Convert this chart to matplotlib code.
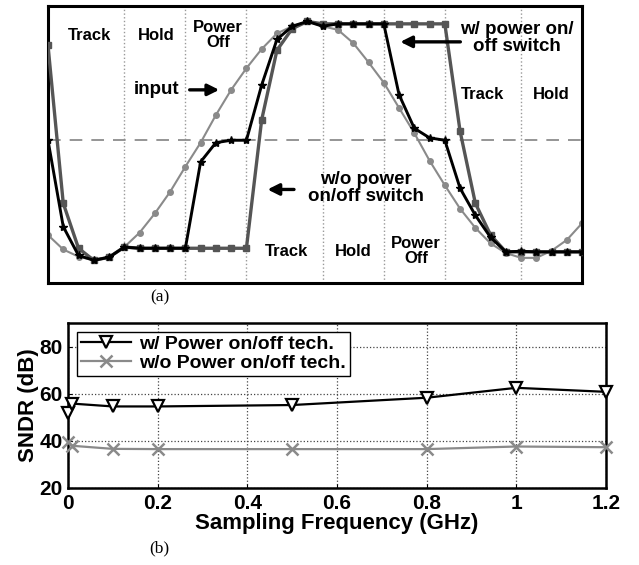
import matplotlib
matplotlib.use("Agg")
import matplotlib.pyplot as plt
import numpy as np

plt.rcParams['font.family'] = ['Liberation Sans', 'DejaVu Sans']
plt.rcParams['font.weight'] = 'bold'

# (a) waveform, one value per sample (normalised amplitude)
vin = [-0.79, -0.91, -0.97, -1.0, -0.975, -0.89, -0.77, -0.61, -0.43, -0.22,
       -0.02, 0.21, 0.42, 0.60, 0.76, 0.89, 0.95, 0.99, 0.95, 0.92,
       0.81, 0.65, 0.48, 0.27, 0.06, -0.17, -0.375, -0.57, -0.73, -0.86,
       -0.94, -0.98, -0.98, -0.92, -0.83, -0.69]
v_with = [0.0, -0.72, -0.96, -1.0, -0.975, -0.89, -0.9, -0.9, -0.9, -0.9,
          -0.18, -0.02, 0.0, 0.0, 0.46, 0.84, 0.95, 0.99, 0.95, 0.97,
          0.97, 0.97, 0.97, 0.38, 0.10, 0.02, 0.0, -0.40, -0.625, -0.81,
          -0.93, -0.925, -0.93, -0.93, -0.93, -0.93]
v_without = [0.79, -0.525, -0.9, -1.0, -0.975, -0.89, -0.9, -0.9, -0.9, -0.9,
             -0.9, -0.9, -0.9, -0.9, 0.17, 0.75, 0.93, 0.99, 0.97, 0.97,
             0.97, 0.97, 0.97, 0.97, 0.97, 0.97, 0.97, 0.075, -0.525, -0.79,
             -0.93, -0.93, -0.93, -0.93, -0.93, -0.93]
phase_edges = [5, 9, 13, 18, 22, 26, 31]

# (b) SNDR vs sampling frequency
fs = [0.001, 0.01, 0.1, 0.2, 0.5, 0.8, 1.0, 1.2]
sndr_with = [52.0, 55.8, 54.6, 54.6, 55.2, 58.3, 62.5, 60.8]
sndr_without = [39.4, 37.9, 36.6, 36.5, 36.5, 36.5, 37.6, 37.3]

fig = plt.figure(figsize=(6.39, 5.65), dpi=100)

ax = fig.add_axes([0.0751, 0.499, 0.836, 0.490])
n = np.arange(len(vin))
for e in phase_edges:
    ax.axvline(e, color='#999999', ls=':', lw=1.0, zorder=1)
ax.axhline(0, color='#8c8c8c', ls=(0, (7, 5)), lw=1.3, zorder=1)
ax.plot(n, vin, color='#8a8a8a', lw=1.5, marker='o', ms=4, zorder=2)
ax.plot(n, v_without, color='#555555', lw=2.4, marker='s', ms=4.5, zorder=3)
ax.plot(n, v_with, color='black', lw=2.1, marker='*', ms=6, zorder=4)
ax.set_xlim(0, 35)
ax.set_ylim(-1.19, 1.117)
ax.set_xticks([])
ax.set_yticks([])
for s in ax.spines.values():
    s.set_linewidth(2.2)

fz = 12
lab = dict(ha='center', va='center', fontsize=fz, fontweight='bold', linespacing=1.0)
ax.text(2.69, 0.87, 'Track', **lab)
ax.text(7.08, 0.87, 'Hold', **lab)
ax.text(11.14, 0.875, 'Power\nOff', **lab)
ax.text(15.6, -0.925, 'Track', **lab)
ax.text(20.0, -0.925, 'Hold', **lab)
ax.text(24.1, -0.92, 'Power\nOff', **lab)
ax.text(28.5, 0.38, 'Track', **lab)
ax.text(32.96, 0.38, 'Hold', **lab)

big = dict(ha='center', va='center', fontsize=13.5, fontweight='bold', linespacing=1.0)
ax.text(7.1, 0.42, 'input', **big)
ax.text(30.7, 0.85, 'w/ power on/\noff switch', **big)
ax.text(20.8, -0.40, 'w/o power\non/off switch', **big)
arr = dict(arrowstyle='-|>', color='black', lw=2.4, mutation_scale=17)
ax.annotate('', xy=(11.4, 0.42), xytext=(9.1, 0.42), arrowprops=arr)
ax.annotate('', xy=(22.9, 0.82), xytext=(27.2, 0.82), arrowprops=arr)
ax.annotate('', xy=(14.2, -0.41), xytext=(16.3, -0.41), arrowprops=arr)

fig.text(0.25, 0.474, '(a)', ha='center', va='center', fontsize=12.5,
         family='Liberation Serif', fontweight='normal')

bx = fig.add_axes([0.1064, 0.1363, 0.8419, 0.2920])
bx.plot(fs, sndr_with, color='black', lw=1.6, marker='v', ms=8,
        mfc='white', mec='black', mew=1.6, clip_on=False, zorder=4,
        label='w/ Power on/off tech.')
bx.plot(fs, sndr_without, color='#8a8a8a', lw=1.6, marker='x', ms=9,
        mew=1.8, clip_on=False, zorder=3, label='w/o Power on/off tech.')
bx.set_xlim(0, 1.2)
bx.set_ylim(20, 90)
bx.set_xticks([0, 0.2, 0.4, 0.6, 0.8, 1.0, 1.2])
bx.set_xticklabels(['0', '0.2', '0.4', '0.6', '0.8', '1', '1.2'])
bx.set_yticks([20, 40, 60, 80])
bx.grid(True, ls=':', color='#444444', lw=0.9)
bx.tick_params(labelsize=15, length=3, direction='in')
bx.tick_params(axis='x', pad=4)
bx.tick_params(axis='y', pad=4)
for t in bx.get_xticklabels() + bx.get_yticklabels():
    t.set_fontweight('bold')
for s in bx.spines.values():
    s.set_linewidth(1.8)
bx.set_xlabel('Sampling Frequency (GHz)', fontsize=16, fontweight='bold', labelpad=0)
bx.set_ylabel('SNDR (dB)', fontsize=16, fontweight='bold', labelpad=0)
leg = bx.legend(loc='upper left', fontsize=14, frameon=True, fancybox=False,
                borderpad=0.2, labelspacing=0.05, handlelength=2.6,
                handletextpad=0.4, borderaxespad=0.45)
leg.get_frame().set_edgecolor('black')
leg.get_frame().set_linewidth(1.0)
leg.get_frame().set_alpha(1)

fig.text(0.25, 0.03, '(b)', ha='center', va='center', fontsize=12.5,
         family='Liberation Serif', fontweight='normal')

fig.savefig('out.png', dpi=100)
